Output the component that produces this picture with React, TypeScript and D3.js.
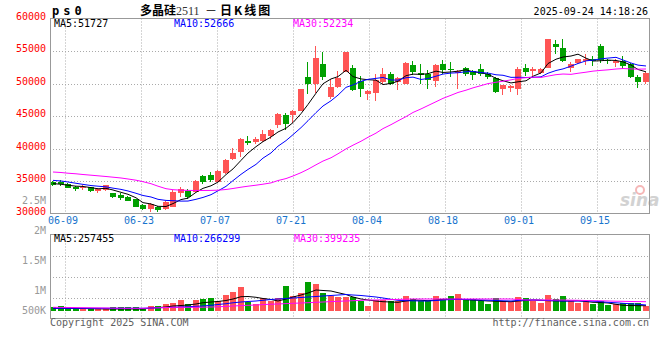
import React from "react";
import * as d3 from "d3";

const dates = [
  "06-05","06-06","06-09","06-10","06-11","06-12","06-13","06-16","06-17","06-18",
  "06-19","06-20","06-23","06-24","06-25","06-26","06-27","06-30",
  "07-01","07-02","07-03","07-04","07-07","07-08","07-09","07-10","07-11","07-14",
  "07-15","07-16","07-17","07-18","07-21","07-22","07-23","07-24","07-25","07-28",
  "07-29","07-30","07-31",
  "08-01","08-04","08-05","08-06","08-07","08-08","08-11","08-12","08-13","08-14",
  "08-15","08-18","08-19","08-20","08-21","08-22","08-25","08-26","08-27","08-28","08-29",
  "09-01","09-02","09-03","09-04","09-05","09-08","09-09","09-10","09-11","09-12",
  "09-15","09-16","09-17","09-18","09-19","09-22","09-23","09-24",
];

const opens = [
  34860,34816,34615,34093,33939,34001,33478,33585,33078,32817,
  32556,32155,31233,30618,30926,30618,31050,33170,33478,33324,
  35738,35892,34862,36245,38428,39474,41165,41012,41165,41888,
  43580,45117,45224,45777,51005,49991,52958,47930,49468,51774,
  52451,50421,48453,48545,50237,51421,50237,49990,52804,51620,
  51421,50391,52958,52297,51620,52389,51928,52297,51528,50852,
  49114,49314,49114,52451,51882,51620,52389,56141,55526,52389,
  53158,53420,53727,55725,53681,53220,53466,53066,51005,50237,
];
const highs = [
  35015,35230,34708,34247,34354,34124,33939,34431,33200,33124,
  32663,32279,31434,31664,31202,31894,33585,34001,33693,35123,
  35937,36399,36660,38428,40120,41688,41934,41780,42919,43072,
  45470,45470,45993,49222,53311,55725,54849,50760,51882,54880,
  52805,51190,48960,51420,52387,51728,51005,53311,53420,53066,
  52035,53066,53573,53311,52143,52600,52143,52958,51774,51005,
  49837,49837,52542,52958,52542,52451,56877,56648,56910,53311,
  53834,54603,54188,56032,53834,53727,54188,53158,51267,51774,
];
const lows = [
  34200,34278,33893,33477,33585,33355,33170,33508,32356,32048,
  31869,30972,30462,30203,30203,30510,30972,32556,32202,33278,
  34615,34862,34815,36122,38198,38705,40504,40735,41012,41534,
  43226,42919,43934,45732,48345,48546,50498,47684,49314,51728,
  48853,47960,47531,47340,49990,49729,48960,49883,51267,49990,
  49222,49468,51528,51005,49222,51190,50498,51113,50760,48607,
  48191,48699,48191,51113,51159,51421,52340,54495,53311,51774,
  53035,52804,52650,53158,53066,52543,52297,50852,49314,49990,
];
const closes = [
  34400,34585,34000,33739,34093,33478,33693,34354,32463,32310,
  31940,31018,30618,31434,30510,31787,33278,33693,32556,34969,
  34862,35230,36553,38305,39351,41427,40857,41457,42196,42919,
  45270,43734,45777,49114,49991,53927,51005,49468,50913,54849,
  49068,49222,48853,50600,51421,49990,50852,53158,51774,51267,
  50498,52804,52143,52143,51928,51528,51267,51421,51005,48700,
  49729,49575,52297,51774,52189,52297,56802,55618,53466,52958,
  53727,53727,53420,53681,53420,53466,52650,51005,50237,51620,
];

// volume, thousand lots
const volumes = [
  168,227,168,150,123,150,123,123,168,168,
  168,168,123,227,227,318,377,500,305,500,
  545,605,468,727,877,1105,423,318,577,468,
  577,1150,682,832,1332,1227,832,682,623,623,
  650,468,227,500,500,455,455,682,545,468,
  468,682,532,682,773,545,545,468,318,577,
  455,395,623,577,468,377,727,545,682,468,
  377,455,318,455,273,318,377,350,350,241,
];

// moving-average values before a full window is available
const ma5Early = [34600, 34500, 34350, 34200];
const ma10Early = [35100, 35000, 34850, 34650, 34480, 34300, 34200, 34100, 33900];
const ma30Price = [
  36383,36306,36199,36106,35999,35893,35800,35692,35585,35462,
  35308,35123,34892,34585,34201,33816,33662,33585,33555,33540,
  33540,33555,33585,33693,33847,34047,34201,34354,34508,34708,
  35070,35375,35768,36280,36810,37492,38069,38573,39188,39939,
  40510,41117,41725,42364,43061,43668,44254,44903,45544,46087,
  46608,47194,47714,48188,48620,48970,49330,49675,49982,50188,
  50350,50558,50788,50890,50976,50935,51141,51359,51457,51407,
  51575,51738,51903,52019,52099,52228,52301,52242,52204,52234,
];

const volMa5 = [
  123,123,123,114,114,105,100,91,91,91,
  91,91,91,136,159,182,227,250,273,318,
  377,409,432,477,545,650,659,623,568,523,
  455,545,636,727,818,955,932,909,832,750,
  636,545,500,455,423,409,395,455,500,486,
  468,500,532,532,532,514,500,477,455,445,
  432,423,455,477,500,486,468,464,455,455,
  468,432,395,386,364,305,259,250,241,241,
];
const volMa10 = [
  123,123,123,123,123,123,123,123,123,123,
  123,123,123,136,145,159,168,182,195,214,
  227,259,295,332,373,409,432,455,486,523,
  545,568,591,614,636,659,682,705,727,750,
  727,705,673,636,591,532,486,468,464,455,
  455,477,500,523,532,523,509,500,491,477,
  464,455,477,500,500,491,477,464,455,455,
  455,455,445,423,395,373,350,327,305,273,
];
const volMa30 = [
  168,164,159,155,150,145,141,136,132,127,
  123,123,123,136,145,159,168,168,168,168,
  173,182,191,209,227,245,259,273,291,309,
  318,336,350,364,377,395,409,427,441,455,
  468,486,500,500,509,518,527,536,545,545,
  545,545,545,545,545,545,545,545,545,545,
  545,545,523,500,500,500,500,500,500,491,
  486,477,468,464,455,445,441,432,427,423,
];

const priceTicks = [60000, 55000, 50000, 45000, 40000, 35000, 30000];
const dateTicks = ["06-09", "06-23", "07-07", "07-21", "08-04", "08-18", "09-01", "09-15"];
const volTickValues = [2500, 2000, 1500, 1000, 500];
const volTickText = ["2.5M", "2M", "1.5M", "1M", "500K"];
const priceMaText = ["MA5:51727", "MA10:52666", "MA30:52234"];
const volMaText = ["MA5:257455", "MA10:266299", "MA30:399235"];

const RED = "#ff5555";
const GREEN = "#00a000";
const MA_COLORS = ["#000000", "#0000ff", "#ff00ff"];
const MONO = "'DejaVu Sans Mono', monospace";
const GRID = "#aaaaaa";
const BORDER = "#999999";

function movingAvg(n: number, early: number[]): number[] {
  return closes.map((_, i) =>
    i >= n - 1 ? (d3.mean(closes.slice(i - n + 1, i + 1)) as number) : early[i]
  );
}

export default function App() {
  const W = 660, H = 360;
  const L = 50, R = 650;
  const pTop = 18.5, pBot = 213.5;
  const vTop = 234.5, vBot = 318.5;

  const x = d3.scaleBand<string>().domain(dates).range([L, R]).paddingInner(0).paddingOuter(0);
  const gx = d3.scaleLinear().domain([0, dates.length - 1]).range([L, R]);
  const y = d3.scaleLinear().domain([30000, 60000]).range([pBot, pTop]);
  const yv = d3.scaleLinear().domain([0, 3500]).range([311, 234]);
  const yvLabel = d3.scaleLinear().domain([1000, 2500]).range([294, 204]);

  const bx = (i: number) => Math.round(x(dates[i]) as number);
  const cx = (i: number) => bx(i) + 3;

  const ma5 = movingAvg(5, ma5Early);
  const ma10 = movingAvg(10, ma10Early);
  const priceLine = d3.line<number>().x((_, i) => cx(i)).y((v) => y(v));
  const volLine = d3.line<number>().x((_, i) => cx(i)).y((v) => yv(v));

  const gridXs = dateTicks.map((d) => Math.round(gx(dates.indexOf(d))) + 0.5);
  const volGridYs = [1, 2, 3].map((k) => Math.round(vTop + (k * (vBot - vTop)) / 4) + 0.5);

  return (
    <div style={{ position: "fixed", left: 0, top: 0, width: W, height: H, background: "#fff" }}>
      <svg width={W} height={H} viewBox={`0 0 ${W} ${H}`} style={{ display: "block" }}>
        <rect x={0} y={0} width={W} height={H} fill="#fff" />

        {/* header */}
        <text x={52} y={15} fontFamily={MONO} fontSize={12} fontWeight="bold" letterSpacing={4} fill="#000">
          ps0
        </text>
        <text y={15} fontSize={12} fill="#000">
          <tspan x={140} fontFamily="'Noto Sans CJK SC'" fontWeight="bold">多晶硅</tspan>
          <tspan x={176} fontFamily="'Liberation Serif', serif" fill="#333">2511</tspan>
          <tspan x={205} fontFamily="'Noto Sans CJK SC'">－</tspan>
          <tspan x={220} fontFamily="'Noto Sans CJK SC'" fontWeight="bold" letterSpacing={2}>日K线图</tspan>
        </text>
        <text x={648} y={15} textAnchor="end" fontFamily={MONO} fontSize={10} fill="#000">
          2025-09-24 14:18:26
        </text>

        {/* price panel grid */}
        {priceTicks.slice(1, -1).map((p) => (
          <line key={"hp" + p} x1={L} x2={R} y1={Math.round(y(p)) + 0.5} y2={Math.round(y(p)) + 0.5}
            stroke={GRID} strokeDasharray="1,2" />
        ))}
        {gridXs.map((gxv, k) => (
          <line key={"vp" + k} x1={gxv} x2={gxv} y1={pTop} y2={pBot} stroke={GRID} strokeDasharray="1,2" />
        ))}

        {/* volume panel grid */}
        {volGridYs.map((gy, k) => (
          <line key={"hv" + k} x1={L} x2={R} y1={gy} y2={gy} stroke={GRID} strokeDasharray="1,2" />
        ))}
        {gridXs.map((gxv, k) => (
          <line key={"vv" + k} x1={gxv} x2={gxv} y1={vTop} y2={vBot} stroke={GRID} strokeDasharray="1,2" />
        ))}

        {/* watermark */}
        <g opacity={0.75}>
          <circle cx={640} cy={190} r={4} fill="none" stroke="#f2a0a0" strokeWidth={2} />
          <text x={620} y={206} fontFamily="'DejaVu Sans', sans-serif" fontSize={17} fontStyle="italic"
            fontWeight="bold" fill="#c4c4c4">sina</text>
        </g>

        {/* candles */}
        <g shapeRendering="crispEdges">
          {dates.map((d, i) => {
            const o = opens[i], c = closes[i];
            const col = c >= o ? RED : GREEN;
            const top = Math.round(y(Math.max(o, c)));
            const bot = Math.round(y(Math.min(o, c)));
            const hi = Math.round(y(highs[i]));
            const lo = Math.round(y(lows[i]));
            return (
              <g key={d}>
                <rect x={bx(i) + 2} y={hi} width={1} height={Math.max(1, lo - hi)} fill={col} />
                <rect x={bx(i)} y={top} width={6} height={Math.max(1, bot - top)} fill={col} />
              </g>
            );
          })}
        </g>

        {/* price MA lines */}
        {[ma5, ma10, ma30Price].map((s, k) => (
          <path key={"pm" + k} d={priceLine(s) as string} fill="none" stroke={MA_COLORS[k]} strokeWidth={1} />
        ))}

        {/* volume bars */}
        <g shapeRendering="crispEdges">
          {dates.map((d, i) => {
            const top = Math.round(yv(volumes[i]));
            return (
              <rect key={"vb" + d} x={bx(i)} y={top} width={6} height={Math.round(yv(0)) - top}
                fill={closes[i] >= opens[i] ? RED : GREEN} />
            );
          })}
        </g>
        {[volMa5, volMa10, volMa30].map((s, k) => (
          <path key={"vm" + k} d={volLine(s) as string} fill="none" stroke={MA_COLORS[k]} strokeWidth={1} />
        ))}

        {/* borders */}
        <rect x={L + 0.5} y={pTop} width={R - L - 1} height={pBot - pTop} fill="none" stroke={BORDER} />
        <rect x={L + 0.5} y={vTop} width={R - L - 1} height={vBot - vTop} fill="none" stroke={BORDER} />

        {/* price axis labels */}
        {priceTicks.map((p) => (
          <text key={"pl" + p} x={46} y={y(p) + 1} textAnchor="end" fontFamily={MONO} fontSize={10} fill="#ff0000">
            {p}
          </text>
        ))}

        {/* volume axis labels */}
        {volTickValues.map((v, k) => (
          <text key={"vl" + v} x={46} y={Math.min(yvLabel(v), 314)} textAnchor="end" fontFamily={MONO}
            fontSize={10} fill="#999999">
            {volTickText[k]}
          </text>
        ))}

        {/* MA legends */}
        {priceMaText.map((t, k) => (
          <text key={"pt" + k} x={[54, 174, 293][k]} y={27} fontFamily={MONO} fontSize={10} fill={MA_COLORS[k]}>
            {t}
          </text>
        ))}
        {volMaText.map((t, k) => (
          <text key={"vt" + k} x={[54, 174, 294][k]} y={242} fontFamily={MONO} fontSize={10} fill={MA_COLORS[k]}>
            {t}
          </text>
        ))}

        {/* date labels */}
        {dateTicks.map((d, k) => (
          <text key={"dl" + d} x={gridXs[k] - 2.5} y={224} textAnchor="middle" fontFamily={MONO} fontSize={10}
            fill="#1874cd">
            {d}
          </text>
        ))}

        {/* footer */}
        <text x={50} y={326} fontFamily={MONO} fontSize={10} fill="#606060">Copyright 2025 SINA.COM</text>
        <text x={649} y={326} textAnchor="end" fontFamily={MONO} fontSize={10} fill="#606060">
          http://finance.sina.com.cn
        </text>
      </svg>
    </div>
  );
}
